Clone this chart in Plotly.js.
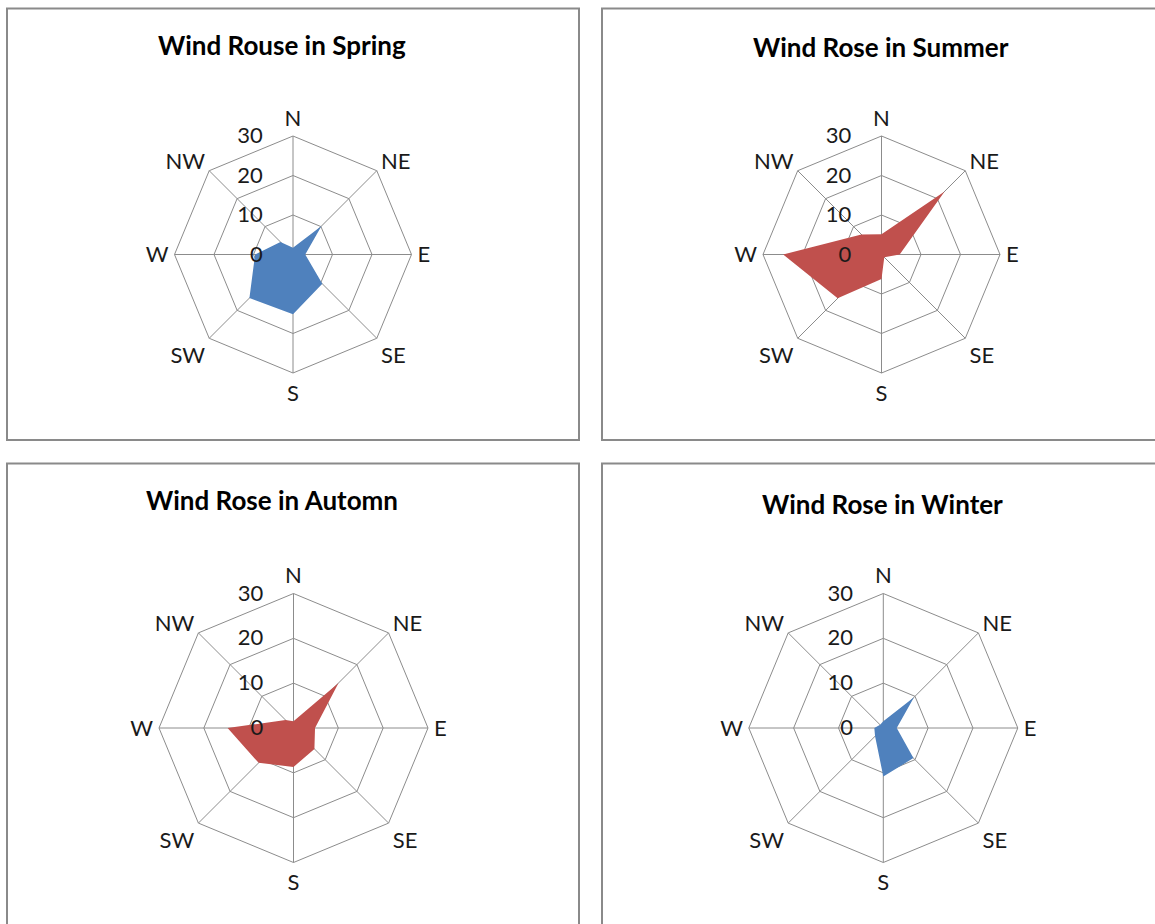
<!DOCTYPE html>
<html>
<head>
<meta charset="utf-8">
<script src="https://cdn.plot.ly/plotly-3.0.1.min.js"></script>
<style>
  html, body { margin: 0; padding: 0; background: #ffffff; }
  #chart { width: 1155px; height: 924px; }
</style>
</head>
<body>
<div id="chart"></div>
<script>
// Categories (wind directions)
const directions = ["N", "NE", "E", "SE", "S", "SW", "W", "NW"];

// Series values
const springValues = [1.7, 10.2, 3.1, 10.5, 15.1, 15.6, 9.6, 4.5];
const summerValues = [5.1, 22.6, 4.6, 1.0, 6.2, 15.7, 24.9, 7.2];
const autumnValues = [1.5, 14.2, 4.8, 6.6, 8.7, 11.0, 14.7, 2.5];
const winterValues = [1.5, 9.7, 3.0, 9.5, 10.8, 2.6, 2.0, 1.0];

// Titles
const titles = ["Wind Rouse in Spring", "Wind Rose in Summer", "Wind Rose in Automn", "Wind Rose in Winter"];

// Radial ticks
const radialTicks = [0, 10, 20, 30];

const W = 1155, H = 924;
const BLUE = "#4F81BD", RED = "#C0504D";
const GRID = "#8c8c8c";
const FONT = "Lato, 'Open Sans', sans-serif";

function closeLoop(arr) { return arr.concat([arr[0]]); }

const seriesList = [
  { values: springValues, color: BLUE, subplot: "polar" },
  { values: summerValues, color: RED, subplot: "polar2" },
  { values: autumnValues, color: RED, subplot: "polar3" },
  { values: winterValues, color: BLUE, subplot: "polar4" }
];

const traces = seriesList.map(s => ({
  type: "scatterpolar",
  r: closeLoop(s.values),
  theta: closeLoop(directions),
  mode: "lines",
  fill: "toself",
  fillcolor: s.color,
  line: { color: s.color, width: 0 },
  subplot: s.subplot,
  showlegend: false,
  hoverinfo: "skip"
}));

// centers and radii in pixels
const geoms = [
  { cx: 293, cy: 254.5, R: 118.5 },
  { cx: 881.5, cy: 254.5, R: 118.5 },
  { cx: 293.5, cy: 728, R: 134.5 },
  { cx: 883.3, cy: 728, R: 134.5 }
];

function polarLayout(g) {
  return {
    domain: {
      x: [(g.cx - g.R) / W, (g.cx + g.R) / W],
      y: [1 - (g.cy + g.R) / H, 1 - (g.cy - g.R) / H]
    },
    bgcolor: "rgba(0,0,0,0)",
    gridshape: "linear",
    angularaxis: {
      type: "category",
      categoryarray: directions,
      rotation: 90,
      direction: "clockwise",
      showline: true,
      linecolor: GRID,
      linewidth: 1,
      showgrid: true,
      gridcolor: GRID,
      gridwidth: 1,
      ticks: "outside",
      ticklen: 1,
      tickcolor: "rgba(0,0,0,0)",
      tickfont: { family: FONT, size: 22, color: "#1a1a1a" }
    },
    radialaxis: {
      range: [0, 30],
      tickvals: radialTicks,
      ticktext: radialTicks.map(String),
      showline: false,
      showgrid: true,
      gridcolor: GRID,
      gridwidth: 1,
      angle: 90,
      side: "counterclockwise",
      ticks: "outside",
      ticklen: 22,
      tickcolor: "rgba(0,0,0,0)",
      tickangle: 90,
      tickfont: { family: FONT, size: 22, color: "#1a1a1a" }
    }
  };
}

const panels = [
  { x0: 7, x1: 579, y0: 8.5, y1: 440 },
  { x0: 602, x1: 1170, y0: 8.5, y1: 440 },
  { x0: 7, x1: 579, y0: 463.5, y1: 940 },
  { x0: 602, x1: 1170, y0: 463.5, y1: 940 }
];

const shapes = panels.map(p => ({
  type: "rect",
  xref: "paper", yref: "paper",
  x0: p.x0 / W, x1: p.x1 / W,
  y0: 1 - p.y1 / H, y1: 1 - p.y0 / H,
  line: { color: "#8a8a8a", width: 2 },
  fillcolor: "rgba(0,0,0,0)",
  layer: "below"
}));

const titlePos = [
  { x: 281.5, y: 45 },
  { x: 881, y: 47 },
  { x: 272, y: 500 },
  { x: 882.5, y: 504 }
];

const annotations = titles.map((t, i) => ({
  text: "<b>" + t + "</b>",
  xref: "paper", yref: "paper",
  x: titlePos[i].x / W, y: 1 - titlePos[i].y / H,
  xanchor: "center", yanchor: "middle",
  showarrow: false,
  font: { family: FONT, size: 26, color: "#000000" }
}));

const layout = {
  width: W, height: H,
  margin: { l: 0, r: 0, t: 0, b: 0 },
  paper_bgcolor: "#ffffff",
  plot_bgcolor: "#ffffff",
  showlegend: false,
  shapes: shapes,
  annotations: annotations,
  polar: polarLayout(geoms[0]),
  polar2: polarLayout(geoms[1]),
  polar3: polarLayout(geoms[2]),
  polar4: polarLayout(geoms[3])
};

Plotly.newPlot("chart", traces, layout, { displayModeBar: false, staticPlot: true });
</script>
</body>
</html>
